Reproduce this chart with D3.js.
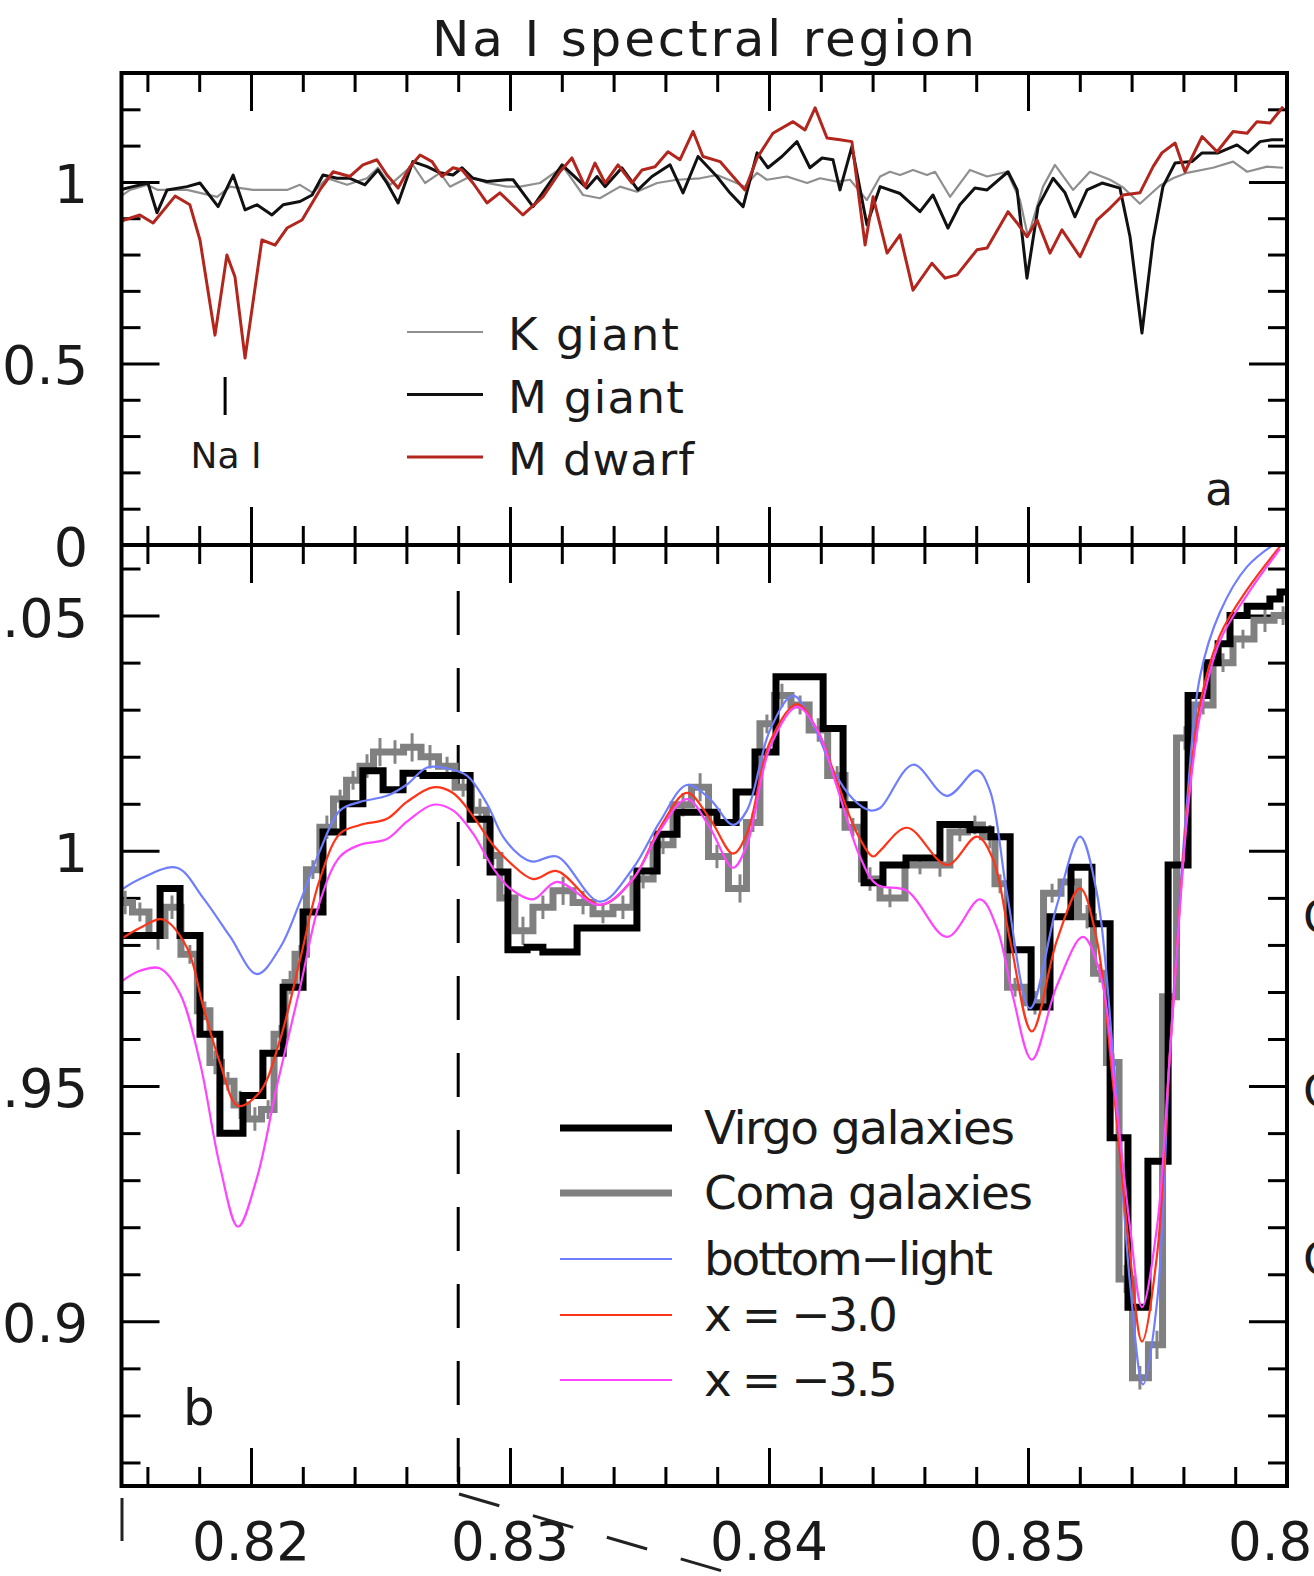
<!DOCTYPE html>
<html>
<head>
<meta charset="utf-8">
<script src="https://cdn.jsdelivr.net/npm/d3@7"></script>
<style>
  body { margin: 0; background: #fff; }
  svg { display: block; }
  text { font-family: "DejaVu Sans", sans-serif; fill: #1a1a1a; }
</style>
</head>
<body>
<div id="chart"></div>
<script>
// wavelength (micron) vs normalised flux

// panel a: stellar spectra
var kGiant = [[0.81494,0.959],[0.81533,0.978],[0.81598,0.992],[0.81641,0.978],[0.81753,0.978],[0.81869,0.959],[0.81919,0.987],[0.82008,0.978],[0.82139,0.978],[0.82189,0.992],[0.82239,0.970],[0.82293,1.010],[0.82371,0.992],[0.82448,1.010],[0.82490,1.039],[0.82537,0.992],[0.82625,1.047],[0.82672,0.997],[0.82730,1.025],[0.82768,0.987],[0.82846,1.015],[0.82911,0.997],[0.82988,0.987],[0.83039,0.987],[0.83116,0.997],[0.83205,1.042],[0.83282,0.964],[0.83347,0.955],[0.83425,0.987],[0.83490,0.973],[0.83568,0.997],[0.83645,1.006],[0.83734,1.010],[0.83799,1.019],[0.83861,1.001],[0.83907,0.987],[0.83954,1.025],[0.83992,1.006],[0.84069,1.015],[0.84147,0.997],[0.84197,1.010],[0.84263,1.001],[0.84313,1.006],[0.84378,0.950],[0.84429,1.015],[0.84467,1.028],[0.84506,1.019],[0.84556,1.033],[0.84610,1.019],[0.84641,1.028],[0.84699,0.959],[0.84776,1.033],[0.84842,1.015],[0.84919,1.028],[0.84969,0.950],[0.85000,0.849],[0.85058,0.987],[0.85104,1.047],[0.85174,0.978],[0.85239,1.028],[0.85317,1.006],[0.85367,0.985],[0.85432,0.940],[0.85510,0.990],[0.85560,1.010],[0.85614,1.025],[0.85714,1.039],[0.85792,1.056],[0.85846,1.028],[0.85923,1.042],[0.85985,1.039]];

var mGiant = [[0.81494,0.978],[0.81544,0.987],[0.81602,0.997],[0.81637,0.915],[0.81676,0.978],[0.81753,0.987],[0.81803,0.997],[0.81873,0.932],[0.81931,1.019],[0.81977,0.923],[0.82023,0.937],[0.82081,0.909],[0.82124,0.937],[0.82189,0.946],[0.82236,0.964],[0.82278,1.019],[0.82332,1.010],[0.82382,1.010],[0.82440,0.992],[0.82490,1.033],[0.82525,0.997],[0.82568,0.942],[0.82625,1.056],[0.82680,1.042],[0.82730,1.025],[0.82780,1.019],[0.82815,1.039],[0.82857,1.010],[0.82911,1.001],[0.82988,1.006],[0.83012,1.006],[0.83089,0.932],[0.83201,1.047],[0.83297,0.983],[0.83336,1.015],[0.83367,0.987],[0.83432,1.039],[0.83494,0.978],[0.83548,1.015],[0.83618,1.047],[0.83668,0.970],[0.83726,1.070],[0.83799,1.015],[0.83849,0.970],[0.83900,0.932],[0.83954,1.080],[0.83996,1.039],[0.84050,1.070],[0.84108,1.111],[0.84158,1.039],[0.84205,1.066],[0.84247,1.061],[0.84274,0.978],[0.84320,1.097],[0.84378,0.882],[0.84429,0.987],[0.84506,0.968],[0.84583,0.918],[0.84633,0.964],[0.84691,0.873],[0.84737,0.937],[0.84795,0.983],[0.84842,0.978],[0.84923,1.028],[0.84958,0.978],[0.84996,0.735],[0.85039,0.932],[0.85097,1.010],[0.85143,0.970],[0.85181,0.904],[0.85228,0.978],[0.85286,0.997],[0.85355,0.983],[0.85394,0.849],[0.85440,0.584],[0.85483,0.840],[0.85521,0.987],[0.85568,1.052],[0.85633,1.056],[0.85672,1.080],[0.85734,1.080],[0.85807,1.102],[0.85849,1.080],[0.85896,1.111],[0.85942,1.116],[0.85985,1.116]];

var mDwarf = [[0.81494,0.891],[0.81571,0.909],[0.81622,0.887],[0.81707,0.961],[0.81764,0.937],[0.81803,0.840],[0.81861,0.578],[0.81907,0.799],[0.81938,0.739],[0.81977,0.515],[0.82042,0.840],[0.82093,0.826],[0.82139,0.873],[0.82197,0.895],[0.82266,0.978],[0.82317,1.028],[0.82382,1.015],[0.82432,1.047],[0.82486,1.061],[0.82525,1.019],[0.82568,0.983],[0.82614,1.042],[0.82653,1.074],[0.82699,1.056],[0.82737,1.015],[0.82780,1.039],[0.82815,1.033],[0.82857,0.997],[0.82911,0.942],[0.82961,0.970],[0.83050,0.909],[0.83127,0.959],[0.83193,1.028],[0.83239,1.066],[0.83290,0.987],[0.83328,1.052],[0.83367,0.997],[0.83417,1.047],[0.83471,0.997],[0.83510,1.033],[0.83560,1.042],[0.83610,1.083],[0.83656,1.061],[0.83707,1.139],[0.83745,1.070],[0.83811,1.056],[0.83861,1.015],[0.83907,0.978],[0.83954,1.066],[0.84015,1.134],[0.84093,1.166],[0.84139,1.143],[0.84178,1.204],[0.84224,1.121],[0.84274,1.116],[0.84320,1.111],[0.84371,0.826],[0.84402,0.959],[0.84456,0.804],[0.84506,0.854],[0.84556,0.702],[0.84629,0.776],[0.84680,0.735],[0.84726,0.744],[0.84803,0.813],[0.84842,0.818],[0.84923,0.918],[0.84958,0.887],[0.84996,0.849],[0.85035,0.895],[0.85085,0.804],[0.85131,0.868],[0.85201,0.794],[0.85266,0.895],[0.85317,0.928],[0.85367,0.964],[0.85432,0.970],[0.85483,1.042],[0.85517,1.080],[0.85568,1.107],[0.85606,1.028],[0.85672,1.125],[0.85730,1.083],[0.85792,1.139],[0.85846,1.134],[0.85884,1.166],[0.85934,1.162],[0.85985,1.207]];

// panel b: galaxy spectra (step start, flux)
var virgo = [[0.81490,0.982],[0.81649,0.992],[0.81726,0.982],[0.81803,0.961],[0.81880,0.940],[0.81969,0.948],[0.82046,0.957],[0.82124,0.971],[0.82201,0.987],[0.82278,1.004],[0.82355,1.010],[0.82432,1.017],[0.82510,1.013],[0.82587,1.0165],[0.82664,1.016],[0.82846,1.0067],[0.82923,0.9955],[0.82992,0.979],[0.83066,0.9795],[0.83127,0.9785],[0.83259,0.9836],[0.83490,0.9957],[0.83568,1.0035],[0.83645,1.0082],[0.83799,1.006],[0.83873,1.0125],[0.83946,1.021],[0.84027,1.037],[0.84209,1.026],[0.84286,1.0098],[0.84367,0.9932],[0.84440,0.997],[0.84529,0.9985],[0.84660,1.0056],[0.84776,1.0045],[0.84857,1.003],[0.84931,0.979],[0.85012,0.9668],[0.85085,0.986],[0.85166,0.9965],[0.85247,0.9845],[0.85317,0.939],[0.85386,0.903],[0.85463,0.934],[0.85541,0.997],[0.85618,1.033],[0.85691,1.040],[0.85734,1.044],[0.85780,1.050],[0.85846,1.052],[0.85934,1.0535],[0.85973,1.055],[0.86010,1.055]];

var coma = [[0.81494,0.989],[0.81514,0.989],[0.81571,0.987],[0.81641,0.982],[0.81695,0.988],[0.81764,0.978],[0.81822,0.966],[0.81861,0.955],[0.81911,0.951],[0.81958,0.946],[0.82015,0.943],[0.82066,0.945],[0.82112,0.961],[0.82151,0.972],[0.82189,0.978],[0.82239,0.996],[0.82293,1.005],[0.82344,1.011],[0.82394,1.015],[0.82448,1.018],[0.82498,1.021],[0.82556,1.021],[0.82622,1.022],[0.82691,1.020],[0.82757,1.018],[0.82819,1.0135],[0.82884,1.0086],[0.82934,0.999],[0.82988,0.990],[0.83050,0.983],[0.83127,0.988],[0.83205,0.9915],[0.83282,0.989],[0.83359,0.9866],[0.83436,0.988],[0.83514,0.994],[0.83591,1.0013],[0.83668,1.0098],[0.83734,1.0135],[0.83799,0.9988],[0.83888,0.992],[0.83938,1.006],[0.83992,1.027],[0.84050,1.033],[0.84120,1.031],[0.84190,1.0257],[0.84263,1.016],[0.84324,1.005],[0.84390,0.994],[0.84467,0.990],[0.84583,0.997],[0.84660,0.997],[0.84737,1.004],[0.84795,1.0055],[0.84853,1.003],[0.84892,0.993],[0.84950,0.971],[0.85027,0.9677],[0.85093,0.991],[0.85162,0.9934],[0.85228,0.986],[0.85278,0.974],[0.85328,0.955],[0.85375,0.909],[0.85432,0.888],[0.85498,0.895],[0.85541,0.969],[0.85606,1.024],[0.85676,1.031],[0.85753,1.040],[0.85830,1.045],[0.85915,1.049],[0.85985,1.050],[0.86010,1.050]];

// half-length of the Coma error spikes, by point
var comaErr = [0.002,0.0025,0.002,0.003,0.0025,0.002,0.002,0.0025,0.002,0.003,0.0025,0.002,0.002,0.0025,0.002,0.002,0.0025,0.002,0.002,0.0025,0.003,0.0025,0.003,0.0025,0.002,0.002,0.0025,0.002,0.0025,0.003,0.0025,0.003,0.0025,0.002,0.0025,0.002,0.002,0.0025,0.003,0.0025,0.003,0.002,0.002,0.0025,0.002,0.0025,0.002,0.002,0.0025,0.002,0.002,0.0025,0.002,0.002,0.0025,0.002,0.002,0.0025,0.002,0.002,0.0025,0.002,0.002,0.003,0.0025,0.003,0.002,0.0025,0.002,0.002,0.002,0.0025,0.002,0.002];

// panel b: models
var bottomLight = [[0.81494,0.9915],[0.81571,0.994],[0.81714,0.9964],[0.81815,0.990],[0.81919,0.9818],[0.82023,0.9738],[0.82112,0.9794],[0.82189,0.9891],[0.82266,1.0],[0.82344,1.0086],[0.82421,1.0104],[0.82525,1.0117],[0.82602,1.0141],[0.82680,1.0177],[0.82757,1.0175],[0.82834,1.016],[0.82911,1.010],[0.82973,1.003],[0.83039,0.999],[0.83089,0.9977],[0.83181,0.9988],[0.83347,0.9892],[0.83475,0.9963],[0.83579,1.0062],[0.83683,1.014],[0.83772,1.011],[0.83861,1.0055],[0.83915,1.0086],[0.84004,1.0257],[0.84093,1.033],[0.84170,1.0269],[0.84247,1.0172],[0.84324,1.011],[0.84390,1.0086],[0.84429,1.0091],[0.84556,1.0183],[0.84687,1.0117],[0.84803,1.0171],[0.84853,1.0128],[0.84919,0.9909],[0.85008,0.9665],[0.85112,0.9885],[0.85201,1.003],[0.85266,0.991],[0.85328,0.957],[0.85394,0.908],[0.85444,0.8866],[0.85498,0.904],[0.85548,0.957],[0.85614,1.0104],[0.85664,1.037],[0.85741,1.0507],[0.85846,1.0604],[0.85973,1.066]];

var imf30 = [[0.81494,0.9811],[0.81571,0.9836],[0.81660,0.9854],[0.81753,0.9794],[0.81815,0.967],[0.81880,0.955],[0.81950,0.9458],[0.82035,0.9488],[0.82112,0.9598],[0.82189,0.9768],[0.82266,0.994],[0.82344,1.0037],[0.82421,1.0055],[0.82525,1.0068],[0.82602,1.0104],[0.82703,1.0135],[0.82780,1.0123],[0.82857,1.0074],[0.82934,1.0013],[0.83000,0.9975],[0.83089,0.994],[0.83181,0.9957],[0.83347,0.9885],[0.83475,0.994],[0.83579,1.0049],[0.83683,1.0123],[0.83772,1.0068],[0.83861,0.9994],[0.83915,1.0037],[0.84004,1.0232],[0.84108,1.0312],[0.84186,1.0257],[0.84263,1.0147],[0.84340,1.0037],[0.84402,0.9988],[0.84429,1.0],[0.84533,1.0049],[0.84687,0.997],[0.84803,1.003],[0.84865,0.9982],[0.84931,0.981],[0.85015,0.9616],[0.85112,0.981],[0.85201,0.992],[0.85266,0.981],[0.85328,0.9507],[0.85394,0.914],[0.85440,0.8957],[0.85498,0.914],[0.85548,0.957],[0.85614,1.008],[0.85664,1.0311],[0.85741,1.0458],[0.85846,1.0555],[0.85973,1.0647]];

var imf35 = [[0.81494,0.972],[0.81571,0.9745],[0.81649,0.975],[0.81726,0.9696],[0.81803,0.955],[0.81880,0.933],[0.81950,0.9201],[0.82023,0.9305],[0.82100,0.950],[0.82189,0.9708],[0.82266,0.9892],[0.82344,0.9988],[0.82421,1.0013],[0.82525,1.0025],[0.82602,1.0062],[0.82703,1.0098],[0.82780,1.0086],[0.82857,1.0037],[0.82934,0.9964],[0.83000,0.992],[0.83089,0.9897],[0.83181,0.9934],[0.83347,0.9885],[0.83475,0.994],[0.83579,1.0043],[0.83683,1.011],[0.83772,1.0049],[0.83861,0.9964],[0.83915,1.0013],[0.84004,1.022],[0.84108,1.0306],[0.84186,1.0257],[0.84263,1.0135],[0.84351,0.9988],[0.84417,0.9928],[0.84533,0.9915],[0.84687,0.9817],[0.84815,0.9897],[0.84880,0.9836],[0.84942,0.969],[0.85015,0.9556],[0.85112,0.9714],[0.85212,0.9817],[0.85278,0.974],[0.85344,0.9445],[0.85394,0.920],[0.85440,0.903],[0.85498,0.920],[0.85548,0.957],[0.85614,1.0068],[0.85664,1.0287],[0.85741,1.0446],[0.85846,1.0544],[0.85973,1.0642]];

// axes
var xMajor = [0.82, 0.83, 0.84, 0.85];
var xLabels = ["0.82", "0.83", "0.84", "0.85", "0.86"];
var xLabelVals = [0.82, 0.83, 0.84, 0.85, 0.86];
var yTopMajor = [0, 0.5, 1];
var yTopLabels = ["0", "0.5", "1"];
var yBotMajor = [0.9, 0.95, 1, 1.05];
var yBotLabels = ["0.9", "0.95", "1", "1.05"];
var naLine = 0.819;       // Na I marker
var dashedAt = 0.828;     // vertical dashed line in panel b

var topLegend = [
    {name: "K  giant", color: "#8f8f8f", width: 2.2},
    {name: "M  giant", color: "#111", width: 3},
    {name: "M  dwarf", color: "#b3261e", width: 3}
];
var botLegend = [
    {name: "Virgo  galaxies", color: "#000", width: 7, len: 311},
    {name: "Coma  galaxies", color: "#808080", width: 7, len: 329},
    {name: "bottom\u2212light", color: "#6f7dff", width: 2.2, len: 289},
    {name: "x = \u22123.0", color: "#ff3318", width: 2.2, len: 194},
    {name: "x = \u22123.5", color: "#ff44ff", width: 2.2, len: 194}
];

var svg = d3.select("#chart").append("svg")
    .attr("width", 1314)
    .attr("height", 1576);

// frame edges (px)
var xL = 121.5, xR = 1287, yT = 73, yM = 545, yB = 1486;

var x = d3.scaleLinear().domain([0.815, 0.86]).range([xL, xR]);
var yTop = d3.scaleLinear().domain([0, 1.3]).range([yM, yT]);
var yBot = d3.scaleLinear().domain([0.865, 1.065]).range([yB, yM]);

var defs = svg.append("defs");
defs.append("clipPath").attr("id", "clipTop").append("rect")
    .attr("x", xL).attr("y", yT).attr("width", xR - xL).attr("height", yM - yT);
defs.append("clipPath").attr("id", "clipBot").append("rect")
    .attr("x", xL).attr("y", yM).attr("width", xR - xL).attr("height", yB - yM);

// minor tick positions
var xMinor = d3.range(0.816, 0.8599, 0.002).filter(function (v) {
    return xMajor.every(function (m) { return Math.abs(m - v) > 1e-6; });
});
var yTopMinor = d3.range(0.1, 1.25, 0.1).filter(function (v) {
    return Math.abs(v - 0.5) > 1e-6 && Math.abs(v - 1) > 1e-6;
});
var yBotMinor = d3.range(0.87, 1.0605, 0.01).filter(function (v) {
    return yBotMajor.every(function (m) { return Math.abs(m - v) > 1e-6; });
});

//draw inward ticks with d3 axes, then strip labels and domain
function tickSet(axis, tx, ty) {
    var g = svg.append("g").attr("transform", "translate(" + tx + "," + ty + ")").call(axis);
    g.select(".domain").remove();
    g.selectAll(".tick text").remove();
    g.selectAll(".tick line").attr("stroke", "#000").attr("stroke-width", 3);
}

[[xMajor, 38], [xMinor, 19]].forEach(function (s) {
    tickSet(d3.axisBottom(x).tickValues(s[0]).tickSize(s[1]), 0, yT);
    tickSet(d3.axisTop(x).tickValues(s[0]).tickSize(s[1]), 0, yM);
    tickSet(d3.axisBottom(x).tickValues(s[0]).tickSize(s[1]), 0, yM);
    tickSet(d3.axisTop(x).tickValues(s[0]).tickSize(s[1]), 0, yB);
});
[[yTopMajor, 38], [yTopMinor, 19]].forEach(function (s) {
    tickSet(d3.axisRight(yTop).tickValues(s[0]).tickSize(s[1]), xL, 0);
    tickSet(d3.axisLeft(yTop).tickValues(s[0]).tickSize(s[1]), xR, 0);
});
[[yBotMajor, 38], [yBotMinor, 19]].forEach(function (s) {
    tickSet(d3.axisRight(yBot).tickValues(s[0]).tickSize(s[1]), xL, 0);
    tickSet(d3.axisLeft(yBot).tickValues(s[0]).tickSize(s[1]), xR, 0);
});

// panel a spectra
var lineTop = d3.line()
    .x(function (d) { return x(d[0]); })
    .y(function (d) { return yTop(d[1]); });

var gTop = svg.append("g").attr("clip-path", "url(#clipTop)");
[[kGiant, topLegend[0]], [mGiant, topLegend[1]], [mDwarf, topLegend[2]]].forEach(function (s) {
    gTop.append("path").datum(s[0])
        .attr("d", lineTop)
        .attr("fill", "none")
        .attr("stroke", s[1].color)
        .attr("stroke-width", s[1].width)
        .attr("stroke-linejoin", "round");
});

// panel b
var gBot = svg.append("g").attr("clip-path", "url(#clipBot)");

gBot.append("line")
    .attr("x1", x(dashedAt)).attr("x2", x(dashedAt))
    .attr("y1", 591).attr("y2", yB)
    .attr("stroke", "#000").attr("stroke-width", 3)
    .attr("stroke-dasharray", "44,33");

var stepLine = d3.line()
    .x(function (d) { return x(d[0]); })
    .y(function (d) { return yBot(d[1]); });

// coma error spikes under the thick gray step
gBot.append("g").selectAll("line").data(coma).enter().append("line")
    .attr("x1", function (d) { return x(d[0]); })
    .attr("x2", function (d) { return x(d[0]); })
    .attr("y1", function (d, i) { return yBot(d[1] - comaErr[i]); })
    .attr("y2", function (d, i) { return yBot(d[1] + comaErr[i]); })
    .attr("stroke", "#858585").attr("stroke-width", 3);

gBot.append("path").datum(coma)
    .attr("d", stepLine.curve(d3.curveStep))
    .attr("fill", "none").attr("stroke", botLegend[1].color).attr("stroke-width", 7);

gBot.append("path").datum(virgo)
    .attr("d", stepLine.curve(d3.curveStepAfter))
    .attr("fill", "none").attr("stroke", botLegend[0].color).attr("stroke-width", 7);

var smooth = d3.line()
    .x(function (d) { return x(d[0]); })
    .y(function (d) { return yBot(d[1]); })
    .curve(d3.curveCatmullRom.alpha(0.5));

[[bottomLight, botLegend[2]], [imf30, botLegend[3]], [imf35, botLegend[4]]].forEach(function (s) {
    gBot.append("path").datum(s[0])
        .attr("d", smooth)
        .attr("fill", "none")
        .attr("stroke", s[1].color)
        .attr("stroke-width", s[1].width);
});

// frame
svg.append("rect")
    .attr("x", xL).attr("y", yT)
    .attr("width", xR - xL).attr("height", yB - yT)
    .attr("fill", "none").attr("stroke", "#000").attr("stroke-width", 4);
svg.append("line")
    .attr("x1", xL).attr("x2", xR).attr("y1", yM).attr("y2", yM)
    .attr("stroke", "#000").attr("stroke-width", 4);

// tick labels
svg.selectAll(".xlab").data(xLabelVals).enter().append("text")
    .attr("class", "xlab")
    .attr("x", function (d) { return x(d); })
    .attr("y", 1560)
    .attr("text-anchor", "middle")
    .attr("font-size", 53)
    .text(function (d, i) { return xLabels[i]; });

svg.selectAll(".ytlab").data(yTopMajor).enter().append("text")
    .attr("class", "ytlab")
    .attr("x", 88)
    .attr("y", function (d) { return yTop(d) + 21; })
    .attr("text-anchor", "end")
    .attr("font-size", 54)
    .text(function (d, i) { return yTopLabels[i]; });

svg.selectAll(".yblab").data(yBotMajor).enter().append("text")
    .attr("class", "yblab")
    .attr("x", 88)
    .attr("y", function (d) { return yBot(d) + 21; })
    .attr("text-anchor", "end")
    .attr("font-size", 54)
    .text(function (d, i) { return yBotLabels[i]; });

// title
svg.append("text")
    .attr("x", 432).attr("y", 56)
    .attr("font-size", 50)
    .attr("textLength", 543).attr("lengthAdjust", "spacing")
    .text("Na I spectral region");

// Na I marker
svg.append("line")
    .attr("x1", x(naLine)).attr("x2", x(naLine))
    .attr("y1", 377).attr("y2", 415)
    .attr("stroke", "#000").attr("stroke-width", 3);
svg.append("text")
    .attr("x", x(naLine) + 1).attr("y", 468)
    .attr("text-anchor", "middle")
    .attr("font-size", 36)
    .text("Na I");

// panel letters
svg.append("text").attr("x", 1205).attr("y", 505).attr("font-size", 46).text("a");
svg.append("text").attr("x", 183).attr("y", 1425).attr("font-size", 50).text("b");

// legend panel a
var legTop = svg.append("g").selectAll("g").data(topLegend).enter().append("g")
    .attr("transform", function (d, i) { return "translate(0," + (332 + i * 62.5) + ")"; });
legTop.append("line")
    .attr("x1", 407).attr("x2", 483)
    .attr("stroke", function (d) { return d.color; })
    .attr("stroke-width", function (d) { return d.width; });
legTop.append("text")
    .attr("x", 508).attr("y", 18)
    .attr("font-size", 45)
    .attr("textLength", function (d, i) { return [171, 176, 186][i]; })
    .attr("lengthAdjust", "spacing")
    .text(function (d) { return d.name; });

// legend panel b
var legBot = svg.append("g").selectAll("g").data(botLegend).enter().append("g")
    .attr("transform", function (d, i) { return "translate(0," + [1128, 1193, 1259, 1315, 1380][i] + ")"; });
legBot.append("line")
    .attr("x1", 560).attr("x2", 672)
    .attr("stroke", function (d) { return d.color; })
    .attr("stroke-width", function (d) { return d.width; });
legBot.append("text")
    .attr("x", 704).attr("y", 16)
    .attr("font-size", 47)
    .attr("textLength", function (d) { return d.len; })
    .attr("lengthAdjust", "spacing")
    .text(function (d) { return d.name; });

// stray marks from the neighbouring figure at the edges
svg.append("line")
    .attr("x1", 122).attr("x2", 122).attr("y1", 1498).attr("y2", 1541)
    .attr("stroke", "#222").attr("stroke-width", 3);
svg.append("line")
    .attr("x1", 459).attr("y1", 1494).attr("x2", 760).attr("y2", 1582)
    .attr("stroke", "#222").attr("stroke-width", 3)
    .attr("stroke-dasharray", "42,35");
[916, 1090, 1258].forEach(function (cy) {
    svg.append("text").attr("x", 1303).attr("y", cy + 17).attr("font-size", 46).text("C");
});
</script>
</body>
</html>
